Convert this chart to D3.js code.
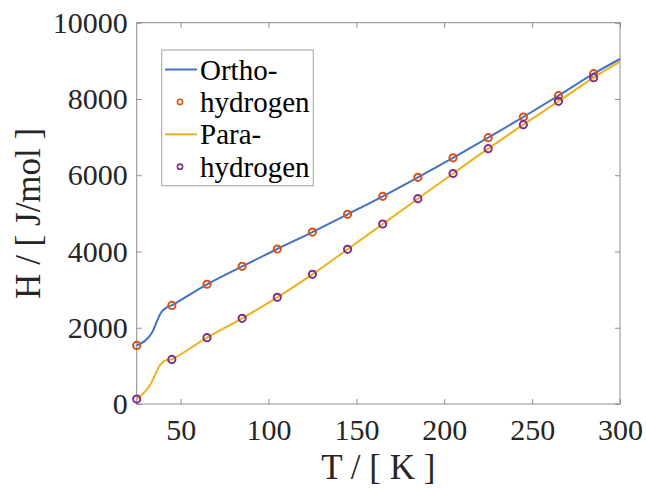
<!DOCTYPE html>
<html>
<head>
<meta charset="utf-8">
<script src="https://cdn.jsdelivr.net/npm/d3@7"></script>
<style>
  body { margin: 0; background: #fff; }
  text { font-family: "Liberation Serif", "Times New Roman", serif; }
</style>
</head>
<body>
<div id="chart"></div>
<script>
// marker data (T in K, H in J/mol)
const markerT = [25, 45, 65, 85, 105, 125, 145, 165, 185, 205, 225, 245, 265, 285];
const orthoMarkers = [1535, 2585, 3140, 3610, 4065, 4510, 4975, 5447, 5946, 6455, 6984, 7527, 8086, 8662];
const paraMarkers = [130, 1170, 1740, 2248, 2798, 3401, 4057, 4721, 5384, 6045, 6696, 7325, 7939, 8558];

// line data
const orthoLineT = [25, 29.7, 33.5, 36.4, 39.2, 42.1, 45, 65, 85, 105, 125, 145, 165, 185, 205, 225, 245, 265, 285, 300];
const orthoLineH = [1535, 1655, 1855, 2158, 2420, 2536, 2589, 3140, 3610, 4065, 4510, 4975, 5447, 5946, 6455, 6984, 7527, 8086, 8662, 9048];
const paraLineT = [25, 28.8, 32.6, 35.4, 38.3, 41.1, 45, 65, 85, 105, 125, 145, 165, 185, 205, 225, 245, 265, 285, 300];
const paraLineH = [130, 281, 498, 761, 1023, 1136, 1172, 1740, 2248, 2798, 3401, 4057, 4721, 5384, 6045, 6696, 7325, 7939, 8558, 8977];

const xTicks = [50, 100, 150, 200, 250, 300];
const yTicks = [0, 2000, 4000, 6000, 8000, 10000];
const legendLabels = ["Ortho-", "hydrogen", "Para-", "hydrogen"];

const width = 646, height = 488;
const margin = { top: 22.7, right: 26, bottom: 84, left: 136.7 };
const w = width - margin.left - margin.right;
const h = height - margin.top - margin.bottom;

const colors = { ortho: "#4472C4", orthoMk: "#D95319", para: "#EDB120", paraMk: "#7E2F8E" };
const axisColor = "#8c8c8c";
const textColor = "#262626";
const serif = "'Liberation Serif', 'Times New Roman', serif";

const svg = d3.select("#chart").append("svg")
    .attr("width", width)
    .attr("height", height);

const g = svg.append("g")
    .attr("transform", `translate(${margin.left},${margin.top})`);

const x = d3.scaleLinear().domain([25, 300]).range([0, w]);
const y = d3.scaleLinear().domain([0, 10000]).range([h, 0]);

function styleAxis(sel, showText) {
    sel.attr("font-family", serif).attr("font-size", 30);
    sel.select(".domain").remove();
    sel.selectAll(".tick line").attr("stroke", axisColor);
    sel.selectAll(".tick text")
        .attr("fill", textColor)
        .style("display", showText ? null : "none");
}

const fmt = d3.format("d");

g.append("g")
    .attr("transform", `translate(0,${h})`)
    .call(d3.axisBottom(x).tickValues(xTicks).tickFormat(fmt).tickSize(-5).tickPadding(15))
    .call(s => styleAxis(s, true));
g.append("g")
    .call(d3.axisTop(x).tickValues(xTicks).tickSize(-5))
    .call(s => styleAxis(s, false));
g.append("g")
    .call(d3.axisLeft(y).tickValues(yTicks).tickFormat(fmt).tickSize(-5).tickPadding(9))
    .call(s => styleAxis(s, true));
g.append("g")
    .attr("transform", `translate(${w},0)`)
    .call(d3.axisRight(y).tickValues(yTicks).tickSize(-5))
    .call(s => styleAxis(s, false));

// box
g.append("rect")
    .attr("width", w)
    .attr("height", h)
    .attr("fill", "none")
    .attr("stroke", axisColor)
    .attr("stroke-width", 1);

const line = d3.line()
    .x(d => x(d[0]))
    .y(d => y(d[1]))
    .curve(d3.curveCatmullRom.alpha(0.5));

function drawSeries(lineT, lineH, lineColor, mkVals, mkColor) {
    g.append("path")
        .datum(lineT.map((t, i) => [t, lineH[i]]))
        .attr("fill", "none")
        .attr("stroke", lineColor)
        .attr("stroke-width", 2)
        .attr("d", line);
    g.append("g").selectAll("circle")
        .data(markerT.map((t, i) => [t, mkVals[i]]))
        .enter().append("circle")
        .attr("cx", d => x(d[0]))
        .attr("cy", d => y(d[1]))
        .attr("r", 3.6)
        .attr("fill", "none")
        .attr("stroke", mkColor)
        .attr("stroke-width", 2);
}

drawSeries(orthoLineT, orthoLineH, colors.ortho, orthoMarkers, colors.orthoMk);
drawSeries(paraLineT, paraLineH, colors.para, paraMarkers, colors.paraMk);

// axis labels
svg.append("text")
    .attr("x", margin.left + w / 2)
    .attr("y", 479)
    .attr("text-anchor", "middle")
    .attr("font-family", serif)
    .attr("font-size", 35)
    .attr("fill", textColor)
    .text("T / [ K ]");

svg.append("text")
    .attr("transform", `translate(40,${margin.top + h / 2}) rotate(-90)`)
    .attr("text-anchor", "middle")
    .attr("font-family", serif)
    .attr("font-size", 35)
    .attr("fill", textColor)
    .text("H / [ J/mol ]");

// legend
const legend = svg.append("g");
legend.append("rect")
    .attr("x", 161.7)
    .attr("y", 50)
    .attr("width", 151.6)
    .attr("height", 135.7)
    .attr("fill", "#fff")
    .attr("stroke", "#a0a0a0")
    .attr("stroke-width", 1);

const legendStyles = [
    { type: "line", color: colors.ortho },
    { type: "marker", color: colors.orthoMk },
    { type: "line", color: colors.para },
    { type: "marker", color: colors.paraMk }
];

legendLabels.forEach((label, i) => {
    const cy = 69.5 + i * 32.4;
    const st = legendStyles[i];
    if (st.type === "line") {
        legend.append("line")
            .attr("x1", 165).attr("x2", 197)
            .attr("y1", cy).attr("y2", cy)
            .attr("stroke", st.color)
            .attr("stroke-width", 2);
    } else {
        legend.append("circle")
            .attr("cx", 180).attr("cy", cy)
            .attr("r", 2.6)
            .attr("fill", "none")
            .attr("stroke", st.color)
            .attr("stroke-width", 1.6);
    }
    legend.append("text")
        .attr("x", 200)
        .attr("y", cy + 10)
        .attr("font-family", serif)
        .attr("font-size", 29)
        .attr("fill", "#000")
        .text(label);
});
</script>
</body>
</html>
